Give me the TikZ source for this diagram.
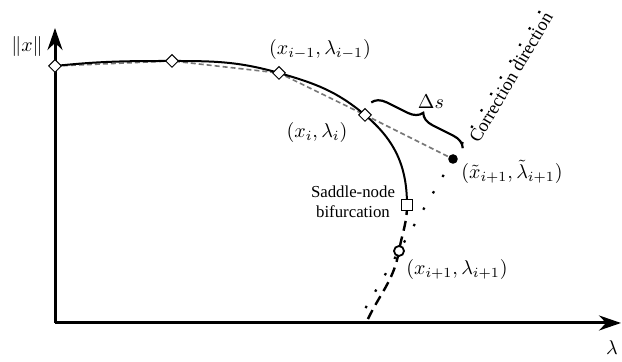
\documentclass[tikz,border=0pt]{standalone}
\usepackage{fontspec}
\setmainfont{Liberation Serif}
\usetikzlibrary{arrows.meta,calc,shapes.geometric,decorations.pathreplacing}
\definecolor{Ink}{HTML}{000000}
\definecolor{Chord}{HTML}{777777}
\tikzset{
  axis/.style={-{Stealth[length=11pt,width=7.5pt]},draw=Ink,line width=1.5pt},
  branch/.style={draw=Ink,line width=1pt},
  unstable/.style={draw=Ink,line width=1.2pt,dash pattern=on 5pt off 3pt},
  chord/.style={draw=Chord,line width=0.8pt,dash pattern=on 2.5pt off 1.5pt},
  corr/.style={draw=Ink,line width=1.1pt,dash pattern=on 1.2pt off 8.3pt},
  diam/.style={diamond,draw=Ink,fill=white,line width=0.5pt,minimum size=6.5pt,inner sep=0pt},
  sqmark/.style={rectangle,draw=Ink,fill=white,line width=0.8pt,minimum size=5.5pt,inner sep=0pt},
  ringmark/.style={circle,draw=Ink,fill=white,line width=0.9pt,minimum size=5pt,inner sep=0pt},
  dotmark/.style={circle,fill=Ink,minimum size=4.8pt,inner sep=0pt},
  brc/.style={decorate,decoration={brace,amplitude=7pt,raise=7pt},draw=Ink,line width=1.1pt},
  lbl/.style={font=\normalsize,text=Ink,inner sep=0pt},
  note/.style={font=\fontsize{8.4}{10}\selectfont,text=Ink,align=center,inner sep=0.5pt}
}

\begin{document}
\begin{tikzpicture}[x=0.5pt,y=0.5pt]
  \useasboundingbox (0,0) rectangle (622,362);
  % points of the continuation
  \coordinate (O) at (55,39);
  \coordinate (ytip) at (55,334);
  \coordinate (xtip) at (621,39);
  \coordinate (c0) at (55,296);
  \coordinate (c1) at (172,301);
  \coordinate (c2) at (279,289);
  \coordinate (c3) at (365,247);
  \coordinate (csq) at (407,157);
  \coordinate (cring) at (399,111);
  \coordinate (cend) at (367,41);
  \coordinate (cdot) at (453,203);

  % axes
  \draw[axis] (O) -- (ytip);
  \draw[axis] (O) -- (xtip);

  % predictor chords and correction direction
  \draw[chord] (c0) -- (c1) -- (c2) -- (c3) -- (cdot);
  \draw[corr] ($(cring)!-0.62!(cdot)$) -- ($(cring)!2.72!(cdot)$)
    node[note,font=\fontsize{9.1}{11}\selectfont,pos=0.765,sloped,below] (lcorr) {Correction direction};

  % solution branch
  \draw[branch] (c0) to[out=6,in=180] (c1) to[out=0,in=164] (c2)
    to[out=-16,in=140] (c3) to[out=-40,in=90] (csq);
  \draw[unstable] (csq) to[out=-90,in=80] (cring) to[out=-100,in=65] (cend);

  % step length
  \draw[brc] (c3) -- ($(c3)!1.04!(cdot)$);

  % markers
  \node[diam] (p0) at (c0) {};
  \node[diam] (p1) at (c1) {};
  \node[diam] (p2) at (c2) {};
  \node[diam] (p3) at (c3) {};
  \node[sqmark] (sn) at (csq) {};
  \node[ringmark] (nxt) at (cring) {};
  \node[dotmark] (pred) at (cdot) {};

  % labels
  \node[lbl] (lnorm) at (27,315) {$\|x\|$};
  \node[lbl] (lprev) at (320,312) {$(x_{i-1},\lambda_{i-1})$};
  \node[lbl] (lcur) at (317,229) {$(x_i,\lambda_i)$};
  \node[lbl] (lpred) at (512,190) {$(\tilde{x}_{i+1},\tilde{\lambda}_{i+1})$};
  \node[lbl] (lnext) at (457,92) {$(x_{i+1},\lambda_{i+1})$};
  \node[lbl] (llam) at (612,14) {$\lambda$};
  \node[lbl] (lds) at (431,260) {$\Delta s$};
  \node[note] (lsn) at (353,160) {Saddle-node\\bifurcation};
\end{tikzpicture}
\end{document}
